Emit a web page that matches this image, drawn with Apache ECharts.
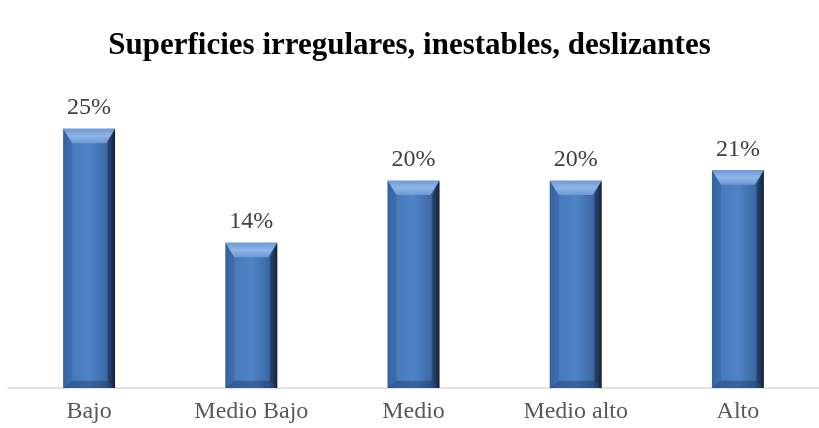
<!DOCTYPE html>
<html>
<head>
<meta charset="utf-8">
<script src="https://cdn.jsdelivr.net/npm/echarts@6/dist/echarts.min.js"></script>
<style>
  html, body { margin: 0; padding: 0; background: #fff; }
  #chart { width: 819px; height: 428px; }
</style>
</head>
<body>
<div id="chart"></div>
<script>
// Percentages by risk level
const categories = ['Bajo', 'Medio Bajo', 'Medio', 'Medio alto', 'Alto'];
const values = [25, 14, 20, 20, 21];

const chart = echarts.init(document.getElementById('chart'));

// Bevelled bar: body with horizontal shading, light top bevel, darker bottom edge
function renderBevelBar(params, api) {
  const idx = api.value(0);
  const val = api.value(1);
  const top = api.coord([idx, val]);
  const base = api.coord([idx, 0]);
  const bw = api.size([1, 0])[0] * 0.32;
  const x0 = top[0] - bw / 2;
  const x1 = top[0] + bw / 2;
  const y0 = top[1];
  const y1 = base[1];
  const b = 9; // bevel depth
  const sideGrad = new echarts.graphic.LinearGradient(0, 0, 1, 0, [
    { offset: 0, color: '#3b69a8' },
    { offset: 0.12, color: '#4677b9' },
    { offset: 0.5, color: '#4f84c6' },
    { offset: 0.82, color: '#3d6aa8' },
    { offset: 0.93, color: '#2b4a75' },
    { offset: 1, color: '#16243a' }
  ]);
  return {
    type: 'group',
    children: [
      { type: 'rect', shape: { x: x0, y: y0, width: bw, height: y1 - y0 }, style: { fill: sideGrad } },
      { type: 'polygon', shape: { points: [[x0, y0], [x1, y0], [x1 - b, y0 + b * 1.6], [x0 + b, y0 + b * 1.6]] },
        style: { fill: new echarts.graphic.LinearGradient(0, 0, 0, 1, [
          { offset: 0, color: '#6f9ad6' },
          { offset: 0.5, color: '#8fb5e6' },
          { offset: 1, color: '#6c98d4' }
        ]) } },
      { type: 'polygon', shape: { points: [[x0, y0], [x0 + b, y0 + b * 1.6], [x0 + b, y1 - b * 0.8], [x0, y1]] },
        style: { fill: 'rgba(40,80,140,0.3)' } },
      { type: 'polygon', shape: { points: [[x1, y0], [x1 - b * 0.8, y0 + b * 1.6], [x1 - b * 0.8, y1 - b * 0.8], [x1, y1]] },
        style: { fill: 'rgba(10,20,40,0.35)' } },
      { type: 'polygon', shape: { points: [[x0, y1], [x0 + b, y1 - b * 0.8], [x1 - b * 0.8, y1 - b * 0.8], [x1, y1]] },
        style: { fill: 'rgba(20,40,80,0.35)' } },
      { type: 'text', style: { text: val + '%', x: top[0], y: y0 - 9, align: 'center', verticalAlign: 'bottom',
          font: '24px "Liberation Serif", "Times New Roman", serif', fill: '#404040' } }
    ]
  };
}

chart.setOption({
  animation: false,
  backgroundColor: '#ffffff',
  title: {
    text: 'Superficies irregulares, inestables, deslizantes',
    left: 'center',
    top: 25,
    textStyle: { fontFamily: '"Liberation Serif", "Times New Roman", serif', fontWeight: 'bold', fontSize: 31, color: '#000' }
  },
  grid: { left: 8, width: 818, top: 77, bottom: 40 },
  xAxis: {
    type: 'category',
    data: categories,
    axisLine: { lineStyle: { color: '#d9d9d9', width: 1.5 } },
    axisTick: { show: false },
    axisLabel: { margin: 12, fontFamily: '"Liberation Serif", "Times New Roman", serif', fontSize: 24, color: '#595959' }
  },
  yAxis: { type: 'value', min: 0, max: 30, show: false, splitLine: { show: false } },
  series: [{
    type: 'custom',
    renderItem: renderBevelBar,
    encode: { x: 0, y: 1 },
    data: values.map((v, i) => [i, v])
  }]
});
</script>
</body>
</html>
